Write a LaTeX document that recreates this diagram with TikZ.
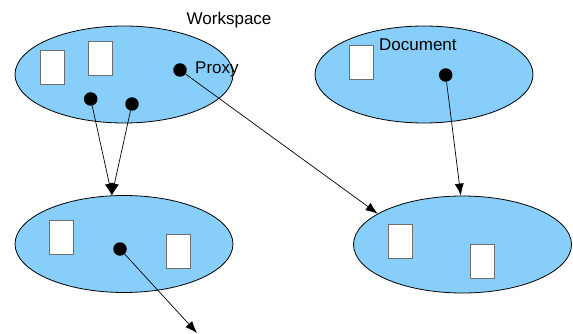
\documentclass[tikz,border=0pt]{standalone}
\usepackage{fontspec}
\setmainfont{Liberation Sans}
\usetikzlibrary{shapes.geometric,arrows.meta}
\definecolor{ellblue}{RGB}{135,206,250}
\definecolor{rectgray}{RGB}{110,110,110}
\tikzset{
  blob/.style={ellipse, draw=black, line width=0.8pt, fill=ellblue, minimum width=218pt, minimum height=97pt, inner sep=0pt},
  doc/.style={rectangle, draw=rectgray, line width=0.8pt, fill=white, minimum width=24pt, minimum height=34pt, inner sep=0pt},
  dot/.style={circle, fill=black, minimum size=13.5pt, inner sep=0pt},
  lbl/.style={anchor=base west, inner sep=0pt, font=\fontsize{17}{19}\selectfont},
  conn/.style={line width=0.7pt, -{Latex[length=12pt,width=9pt]}}
}
\begin{document}
\begin{tikzpicture}[x=1pt,y=-1pt]
\useasboundingbox (0,0) rectangle (573,334);
% ellipses
\node[blob] (e1) at (124,74.5) {};
\node[blob] (e2) at (424,74.5) {};
\node[blob] (e3) at (124,244) {};
\node[blob] (e4) at (462.5,244.5) {};
% documents
\node[doc] (r1) at (52.3,67) {};
\node[doc] (r2) at (100.3,58) {};
\node[doc] (r3) at (361,62.5) {};
\node[doc] (r4) at (61.5,237) {};
\node[doc] (r5) at (178,251.5) {};
\node[doc] (r6) at (400,241.5) {};
\node[doc] (r7) at (482.5,261) {};
% dots
\node[dot] (d1) at (90.7,99) {};
\node[dot] (d2) at (132,104) {};
\node[dot] (dp) at (180,70) {};
\node[dot] (dd) at (445.7,75) {};
\node[dot] (d3) at (120,249) {};
% labels
\node[lbl] (tw) at (186.5,25) {Workspace};
\node[lbl] (tp) at (195,74) {Proxy};
\node[lbl] (td) at (379,51) {Document};
% connectors
\coordinate (free) at (197,333);
\draw[conn] (d1) -- (e3.104);
\draw[conn] (d2) -- (e3.104);
\draw[conn] (dp) -- (e4.160);
\draw[conn] (dd) -- (e4.92);
\draw[conn] (d3) -- (free);
\end{tikzpicture}
\end{document}
